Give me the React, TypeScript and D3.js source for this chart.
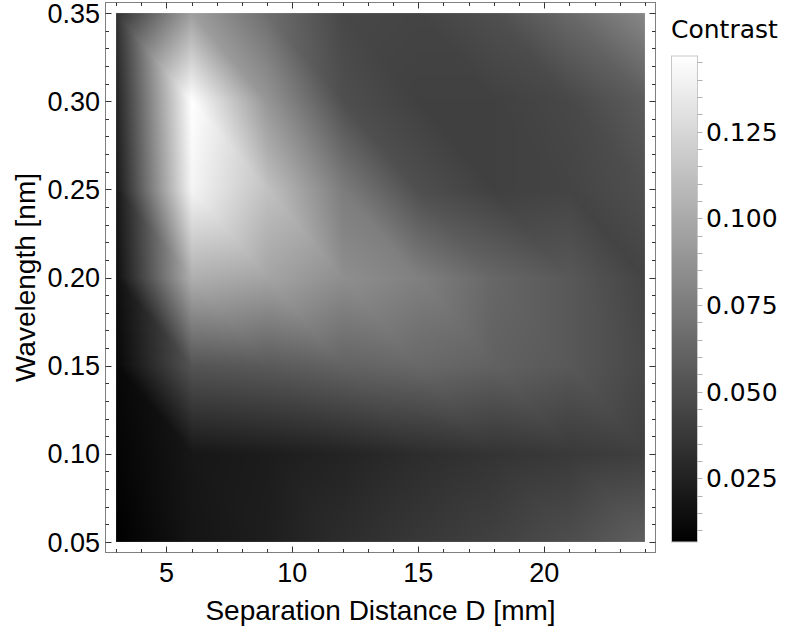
import React, { useMemo } from "react";
import * as d3 from "d3";

// Grid of the density plot (Separation Distance D [mm] x Wavelength [nm])
const xValues = [3, 6, 9, 12, 15, 18, 21, 24];
const yValues = [0.05, 0.1, 0.15, 0.2, 0.25, 0.3, 0.35];

// Contrast values, one array per wavelength row (left to right along D)
const contrastAt005 = [0.0066, 0.018, 0.023, 0.031, 0.037, 0.042, 0.049, 0.059];
const contrastAt010 = [0.009, 0.019, 0.022, 0.026, 0.031, 0.035, 0.038, 0.041];
const contrastAt015 = [0.011, 0.053, 0.056, 0.061, 0.064, 0.06, 0.055, 0.046];
const contrastAt020 = [0.015, 0.103, 0.097, 0.085, 0.077, 0.063, 0.055, 0.044];
const contrastAt025 = [0.02, 0.141, 0.113, 0.075, 0.05, 0.042, 0.044, 0.05];
const contrastAt030 = [0.026, 0.1468, 0.089, 0.05, 0.042, 0.042, 0.046, 0.057];
const contrastAt035 = [0.034, 0.094, 0.067, 0.046, 0.044, 0.05, 0.064, 0.081];
const contrastRows = [
  contrastAt005,
  contrastAt010,
  contrastAt015,
  contrastAt020,
  contrastAt025,
  contrastAt030,
  contrastAt035,
];

const xTickValues = [5, 10, 15, 20];
const xMinorTickValues = d3.range(3, 25, 1);
const yTickValues = [0.05, 0.1, 0.15, 0.2, 0.25, 0.3, 0.35];
const yMinorTickValues = d3.range(5, 36, 1).map((d) => d / 100);
const legendTickValues = [0.025, 0.05, 0.075, 0.1, 0.125];

const xLabel = "Separation Distance D [mm]";
const yLabel = "Wavelength [nm]";
const legendTitle = "Contrast";

const W = 789;
const H = 630;
const frame = { left: 105.5, right: 655.5, top: 2.5, bottom: 552.5 };

const tickFont = "'Liberation Sans', Arial, sans-serif";
const legendFont = "'DejaVu Sans', Verdana, sans-serif";

export default function App() {
  const xPad = (d3.max(xValues)! - d3.min(xValues)!) * 0.02;
  const yPad = (d3.max(yValues)! - d3.min(yValues)!) * 0.02;
  const xScale = d3
    .scaleLinear()
    .domain([d3.min(xValues)! - xPad, d3.max(xValues)! + xPad])
    .range([frame.left, frame.right]);
  const yScale = d3
    .scaleLinear()
    .domain([d3.min(yValues)! - yPad, d3.max(yValues)! + yPad])
    .range([frame.bottom, frame.top]);

  const allValues = contrastRows.flat();
  const extent = d3.extent(allValues) as [number, number];
  const grayScale = d3.scaleLinear().domain(extent).range([0, 255]).clamp(true);

  const imgX = xScale(xValues[0]);
  const imgX2 = xScale(xValues[xValues.length - 1]);
  const imgY = yScale(yValues[yValues.length - 1]);
  const imgY2 = yScale(yValues[0]);

  const href = useMemo(() => {
    const w = Math.round(imgX2 - imgX);
    const h = Math.round(imgY2 - imgY);
    const canvas = document.createElement("canvas");
    canvas.width = w;
    canvas.height = h;
    const ctx = canvas.getContext("2d");
    if (!ctx) return "";
    const img = ctx.createImageData(w, h);
    const nx = xValues.length;
    const ny = yValues.length;
    for (let py = 0; py < h; py++) {
      const dy = yScale.invert(imgY + ((py + 0.5) * (imgY2 - imgY)) / h);
      let j = d3.bisectRight(yValues, dy) - 1;
      j = Math.max(0, Math.min(ny - 2, j));
      const v = (dy - yValues[j]) / (yValues[j + 1] - yValues[j]);
      for (let px = 0; px < w; px++) {
        const dx = xScale.invert(imgX + ((px + 0.5) * (imgX2 - imgX)) / w);
        let i = d3.bisectRight(xValues, dx) - 1;
        i = Math.max(0, Math.min(nx - 2, i));
        const u = (dx - xValues[i]) / (xValues[i + 1] - xValues[i]);
        const f00 = contrastRows[j][i];
        const f10 = contrastRows[j][i + 1];
        const f01 = contrastRows[j + 1][i];
        const f11 = contrastRows[j + 1][i + 1];
        let val;
        if (u + v <= 1) {
          val = f00 + u * (f10 - f00) + v * (f01 - f00);
        } else {
          val = f11 + (1 - u) * (f01 - f11) + (1 - v) * (f10 - f11);
        }
        const g = Math.round(grayScale(val));
        const k = (py * w + px) * 4;
        img.data[k] = g;
        img.data[k + 1] = g;
        img.data[k + 2] = g;
        img.data[k + 3] = 255;
      }
    }
    ctx.putImageData(img, 0, 0);
    return canvas.toDataURL();
  }, []);

  // Legend
  const bar = { x: 671.5, width: 26, top: 56, bottom: 542 };
  const legendScale = d3.scaleLinear().domain(extent).range([bar.bottom, bar.top]);
  const legendMinor = d3
    .range(Math.ceil(extent[0] / 0.005), Math.floor(extent[1] / 0.005) + 1)
    .map((d) => d * 0.005);

  const frameStroke = "#808080";
  const tickStroke = "#333";
  const majorLen = 6;
  const minorLen = 3.5;

  return (
    <svg
      width={W}
      height={H}
      style={{ position: "absolute", left: 0, top: 0, background: "#fff" }}
    >
      <defs>
        <linearGradient id="grayGrad" x1="0" y1="1" x2="0" y2="0">
          <stop offset="0" stopColor="#000" />
          <stop offset="1" stopColor="#fff" />
        </linearGradient>
      </defs>
      <image
        href={href}
        x={imgX}
        y={imgY}
        width={imgX2 - imgX}
        height={imgY2 - imgY}
        preserveAspectRatio="none"
      />
      {/* frame */}
      <rect
        x={frame.left}
        y={frame.top}
        width={frame.right - frame.left}
        height={frame.bottom - frame.top}
        fill="none"
        stroke={frameStroke}
        strokeWidth={1}
      />
      {/* x ticks bottom & top */}
      {xMinorTickValues.map((t) => {
        const major = xTickValues.includes(t);
        const len = major ? majorLen : minorLen;
        const x = Math.round(xScale(t)) + 0.5;
        return (
          <g key={"xt" + t}>
            <line x1={x} x2={x} y1={frame.bottom} y2={frame.bottom - len} stroke={tickStroke} />
            <line x1={x} x2={x} y1={frame.top} y2={frame.top + len} stroke={tickStroke} />
          </g>
        );
      })}
      {yMinorTickValues.map((t) => {
        const major = yTickValues.some((m) => Math.abs(m - t) < 1e-9);
        const len = major ? majorLen : minorLen;
        const y = Math.round(yScale(t)) + 0.5;
        return (
          <g key={"yt" + t}>
            <line y1={y} y2={y} x1={frame.left} x2={frame.left + len} stroke={tickStroke} />
            <line y1={y} y2={y} x1={frame.right} x2={frame.right - len} stroke={tickStroke} />
          </g>
        );
      })}
      {/* tick labels */}
      {xTickValues.map((t) => (
        <text
          key={"xl" + t}
          x={xScale(t)}
          y={582}
          textAnchor="middle"
          fontFamily={tickFont}
          fontSize={27}
          fill="#000"
        >
          {t}
        </text>
      ))}
      {yTickValues.map((t) => (
        <text
          key={"yl" + t}
          x={100}
          y={yScale(t) + 9.7}
          textAnchor="end"
          fontFamily={tickFont}
          fontSize={27}
          fill="#000"
        >
          {t.toFixed(2)}
        </text>
      ))}
      {/* axis titles */}
      <text
        x={(frame.left + frame.right) / 2}
        y={620}
        textAnchor="middle"
        fontFamily={tickFont}
        fontSize={28}
        fill="#000"
      >
        {xLabel}
      </text>
      <text
        transform={`translate(35,${(frame.top + frame.bottom) / 2}) rotate(-90)`}
        textAnchor="middle"
        fontFamily={tickFont}
        fontSize={28}
        fill="#000"
      >
        {yLabel}
      </text>
      {/* legend */}
      <text x={671} y={37.5} fontFamily={legendFont} fontSize={25} fill="#000">
        {legendTitle}
      </text>
      <rect
        x={bar.x}
        y={bar.top}
        width={bar.width}
        height={bar.bottom - bar.top}
        fill="url(#grayGrad)"
        stroke="#c8c8c8"
        strokeWidth={1}
      />
      {legendMinor.map((t) => {
        const y = Math.round(legendScale(t)) + 0.5;
        return (
          <line
            key={"lm" + t}
            x1={bar.x + bar.width}
            x2={bar.x + bar.width + 5}
            y1={y}
            y2={y}
            stroke="#b0b0b0"
          />
        );
      })}
      {legendTickValues.map((t) => (
        <text
          key={"ll" + t}
          x={706}
          y={legendScale(t) + 9}
          fontFamily={legendFont}
          fontSize={25}
          fill="#000"
        >
          {t.toFixed(3)}
        </text>
      ))}
    </svg>
  );
}
